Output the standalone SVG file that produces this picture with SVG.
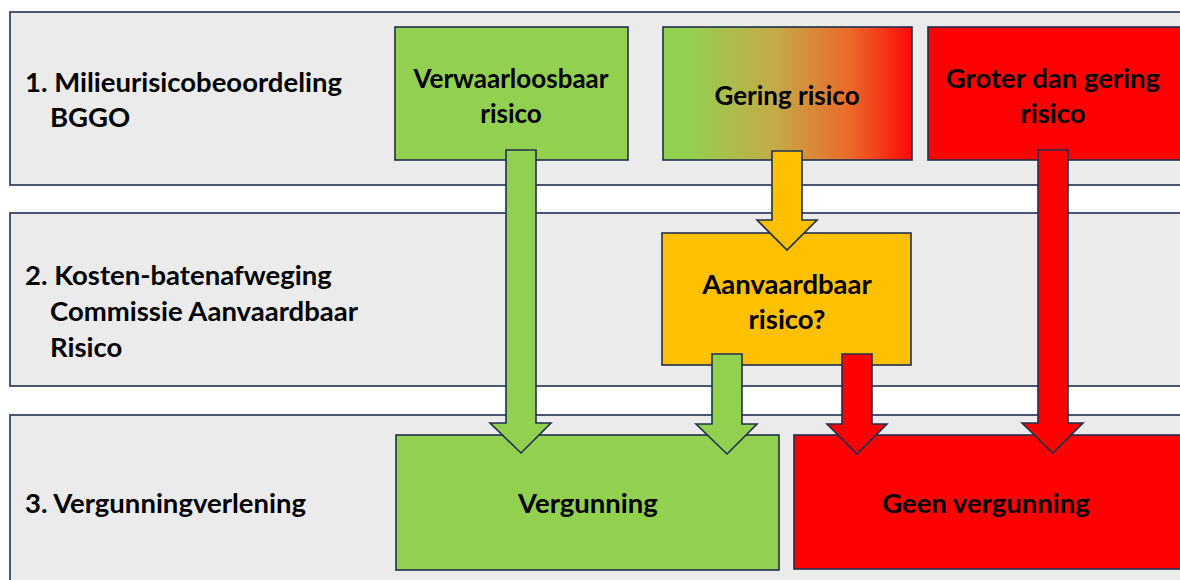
<svg xmlns="http://www.w3.org/2000/svg" width="1180" height="580" viewBox="0 0 1180 580">
<defs>
<linearGradient id="grad" x1="0" y1="0" x2="1" y2="0">
<stop offset="0" stop-color="#92d050"/>
<stop offset="0.1" stop-color="#92d050"/>
<stop offset="0.45" stop-color="#c4aa46"/>
<stop offset="0.75" stop-color="#ea6a2a"/>
<stop offset="1" stop-color="#ff0a0a"/>
</linearGradient>
</defs>
<style>
.band{fill:#ebebeb;stroke:#1f3050;stroke-width:1.6}
.box{stroke:#1f3050;stroke-width:1.6}
.g{fill:#92d050}.r{fill:#ff0000}.o{fill:#ffc000}
.arr{stroke:#1f3050;stroke-width:1.6;stroke-linejoin:miter}
text{font-family:Lato,"Open Sans","Liberation Sans",sans-serif;font-weight:bold;font-size:27.5px;fill:#000}
.c{text-anchor:middle}
.s{font-size:26px}
</style>
<rect width="1180" height="580" fill="#ffffff"/>
<g id="band1"><rect class="band" x="10" y="12" width="1185" height="173"/>
<text x="25" y="92">1. Milieurisicobeoordeling</text><text x="50" y="127">BGGO</text></g>
<g id="band2"><rect class="band" x="10" y="213" width="1185" height="173"/>
<text x="25" y="285">2. Kosten-batenafweging</text><text x="50" y="321">Commissie Aanvaardbaar</text><text x="50" y="357">Risico</text></g>
<g id="band3"><rect class="band" x="10" y="415" width="1185" height="180"/>
<text x="25" y="513">3. Vergunningverlening</text></g>
<g id="verwaarloosbaar"><rect class="box g" x="395" y="27" width="233" height="133"/>
<text class="c s" x="511" y="88">Verwaarloosbaar</text><text class="c s" x="511" y="123">risico</text></g>
<g id="gering"><rect class="box" fill="url(#grad)" x="663" y="27" width="249" height="133"/>
<text class="c s" x="787" y="105">Gering risico</text></g>
<g id="groter"><rect class="box r" x="928" y="27" width="260" height="133"/>
<text class="c" x="1053" y="88">Groter dan gering</text><text class="c" x="1053" y="123">risico</text></g>
<g id="aanvaardbaar"><rect class="box o" x="662" y="233" width="249" height="132"/>
<text class="c" x="787" y="294">Aanvaardbaar</text><text class="c" x="787" y="329">risico?</text></g>
<g id="vergunning"><rect class="box g" x="396" y="435" width="383" height="135"/>
<text class="c" x="588" y="513">Vergunning</text></g>
<g id="geen"><rect class="box r" x="794" y="435" width="395" height="134"/>
<text class="c" x="986" y="513">Geen vergunning</text></g>
<g id="connectors">
<polygon class="arr g" points="506,150 536,150 536,423 551,423 521,453 490,423 506,423"/>
<polygon class="arr o" points="772,151 802,151 802,220 817,220 787,250 757,220 772,220"/>
<polygon class="arr g" points="712,354 742,354 742,424 757,424 727,454 696,424 712,424"/>
<polygon class="arr r" points="842,354 872,354 872,424 887,424 857,454 827,424 842,424"/>
<polygon class="arr r" points="1038,150 1068,150 1068,423 1083,423 1053,453 1022,423 1038,423"/>
</g>
</svg>
